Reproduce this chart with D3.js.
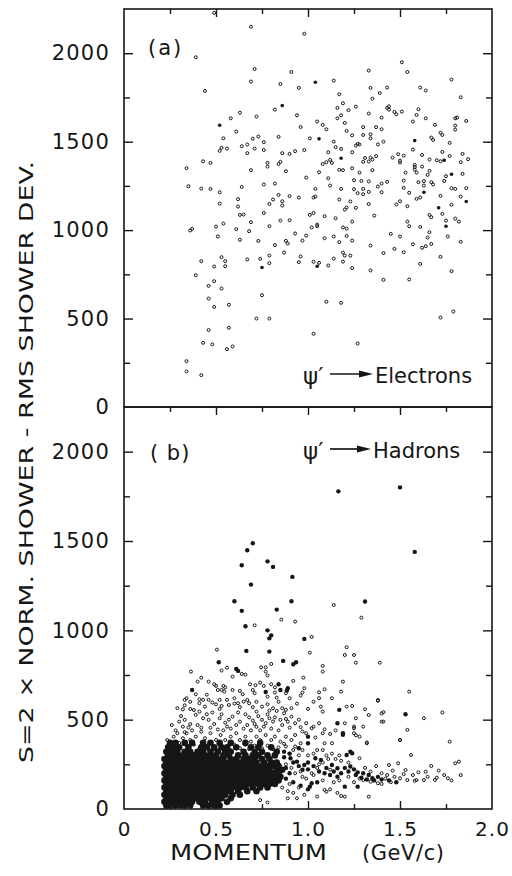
<!DOCTYPE html>
<html><head><meta charset="utf-8">
<script src="https://cdn.jsdelivr.net/npm/d3@7"></script>
<style>body{margin:0;background:#fff}</style>
</head><body>
<svg id="c" width="512" height="876" xmlns="http://www.w3.org/2000/svg"></svg>
<script>
// ---------- axis data ----------
const xTickValues = [0, 0.5, 1.0, 1.5, 2.0];
const xTickLabels = ["0", "0.5", "1.0", "1.5", "2.0"];
const xMajorTicks = [0.5, 1.0, 1.5];
const xMinorTicks = [0.25, 0.75, 1.25, 1.75];
const yTickValues = [0, 500, 1000, 1500, 2000];
const yMajorTicks = [500, 1000, 1500, 2000];
const yMinorTicks = [250, 750, 1250, 1750];
const xTitleWord = "MOMENTUM";
const xTitleUnit = "(GeV/c)";
const yTitle = "S=2 \u00d7 NORM. SHOWER - RMS SHOWER DEV.";

// ---------- panel (a): psi' -> electrons  [momentum GeV/c, S] ----------
const electronsOpen = [
[0.69,2150],[0.98,2110],[0.39,1977],[0.71,1911],[0.91,1894],[0.69,1840],[0.85,1826],[0.95,1804],[0.44,1787],[0.82,1681],
[0.63,1664],[0.94,1649],[0.58,1632],[0.72,1642],[0.96,1583],[0.61,1557],[0.54,1519],[0.70,1517],[0.73,1529],[0.84,1527],
[0.76,1497],[0.64,1474],[0.67,1484],[0.53,1465],[0.56,1461],[0.52,1448],[0.71,1461],[0.76,1453],[0.67,1435],[0.86,1435],
[0.90,1431],[0.93,1446],[0.98,1453],[0.43,1389],[0.47,1380],[0.34,1350],[0.78,1380],[0.78,1359],[0.84,1374],[0.85,1386],
[0.69,1339],[0.88,1333],[0.99,1297],[0.35,1248],[0.42,1235],[0.47,1233],[0.52,1214],[0.64,1244],[0.76,1258],[0.82,1263],
[0.84,1199],[0.81,1173],[0.90,1192],[0.95,1184],[0.86,1163],[0.52,1150],[0.62,1175],[0.62,1133],[0.79,1148],[0.86,1139],
[0.49,2228],
[0.63,1086],[0.65,1088],[0.76,1097],[0.50,1020],[0.54,1037],[0.69,1045],[0.79,1022],[0.85,1054],[0.90,1056],[0.36,998],
[0.37,1007],[0.61,1005],[0.68,994],[0.51,964],[0.63,945],[0.73,939],[0.82,915],[0.88,939],[0.89,924],[0.93,981],
[0.97,941],[0.99,969],[0.87,873],[0.42,824],[0.53,847],[0.55,824],[0.49,794],[0.55,796],[0.67,834],[0.74,838],
[0.79,856],[0.79,813],[0.96,851],[0.95,819],[0.39,745],[0.49,711],[0.46,685],[0.53,670],[0.75,632],[0.46,613],
[0.49,566],[0.57,578],[0.72,500],[0.79,500],[0.46,435],[0.57,448],[0.43,363],[0.48,354],[0.56,327],[0.59,342],
[0.34,259],[0.34,201],[0.42,180],
[1.51,1949],[1.54,1894],[1.33,1902],[1.78,1851],[1.14,1845],[1.34,1804],[1.43,1806],[1.17,1768],[1.39,1775],[1.61,1806],
[1.64,1789],[1.35,1743],[1.83,1751],[1.19,1717],[1.26,1698],[1.16,1691],[1.22,1678],[1.43,1691],[1.44,1700],[1.44,1681],
[1.47,1668],[1.48,1655],[1.51,1670],[1.60,1683],[1.18,1649],[1.16,1632],[1.33,1659],[1.40,1636],[1.59,1651],[1.64,1632],
[1.80,1632],[1.81,1636],[1.86,1617],[1.05,1614],[1.20,1606],[1.08,1595],[1.10,1570],[1.57,1614],[1.69,1595],[1.30,1582],
[1.37,1582],[1.40,1570],[1.80,1591],[1.80,1568],[1.21,1561],[1.72,1551],[1.73,1538],[1.24,1536],[1.30,1538],[1.34,1542],
[1.34,1519],[1.01,1519],[1.14,1500],[1.26,1478],[1.27,1487],[1.28,1484],[1.41,1500],[1.38,1484],[1.67,1523],[1.68,1510],
[1.77,1493],[1.15,1469],[1.18,1459],[1.24,1440],[1.11,1440],[1.49,1429],[1.52,1421],[1.57,1455],[1.62,1425],[1.73,1442],
[1.84,1431],[1.77,1419],[1.31,1408],[1.34,1410],[1.35,1399],[1.37,1418],[1.30,1386],[1.33,1388],[1.46,1410],[1.50,1393],
[1.50,1382],[1.66,1399],[1.70,1395],[1.72,1389],[1.83,1384],[1.87,1401],[1.08,1374],[1.10,1384],[1.12,1397],[1.13,1380],
[1.58,1369],[1.58,1356],[1.62,1359],[1.17,1341],[1.19,1339],[1.24,1350],[1.28,1325],[1.35,1339],[1.53,1325],[1.58,1342],
[1.59,1325],[1.65,1312],[1.66,1335],[1.75,1305],[1.84,1318],[1.06,1327],[1.11,1293],[1.12,1252],[1.25,1282],[1.29,1278],
[1.33,1275],[1.43,1273],[1.40,1263],[1.52,1280],[1.60,1271],[1.63,1277],[1.63,1252],[1.67,1271],[1.68,1258],[1.74,1278],
[1.04,1233],[1.18,1233],[1.25,1231],[1.30,1233],[1.38,1246],[1.52,1239],[1.78,1237],[1.80,1233],[1.86,1237],[1.03,1184],
[1.04,1190],[1.17,1173],[1.27,1209],[1.30,1203],[1.33,1216],[1.40,1214],[1.55,1211],[1.72,1194],[1.83,1190],[1.59,1177],
[1.61,1184],[1.50,1163],[1.23,1162],[1.33,1147],[1.48,1145],[1.54,1135],[1.78,1143],[1.21,1128],[1.26,1126],
[1.03,1097],[1.01,1086],[1.09,1079],[1.15,1067],[1.20,1116],[1.36,1082],[1.24,1048],[1.02,1015],[1.05,1022],[1.05,1031],
[1.19,1015],[1.21,1009],[1.14,964],[1.09,954],[1.17,932],[1.21,967],[1.24,941],[1.34,913],[1.45,979],[1.50,964],
[1.54,1048],[1.55,1022],[1.61,1018],[1.66,1086],[1.67,1073],[1.73,1092],[1.75,1054],[1.80,1065],[1.82,1048],[1.66,988],
[1.65,958],[1.76,964],[1.83,934],[1.67,922],[1.64,909],[1.62,900],[1.57,920],[1.52,875],[1.47,894],[1.41,870],
[1.19,873],[1.20,856],[1.23,856],[1.14,839],[1.03,821],[1.06,815],[1.11,800],[1.19,822],[1.24,785],[1.34,772],
[1.72,849],[1.61,809],[1.78,768],[1.41,719],[1.55,721],[1.10,595],[1.18,589],[1.72,506],[1.79,540],[1.03,414],[1.27,359]
];
const electronsFilled = [
[0.86,1704],[0.52,1593],[1.04,1836],[1.06,1516],[1.58,1506],[1.18,1406],[1.74,1395],[1.78,1316],[1.63,1214],[1.86,1162],
[1.71,1126],[1.75,1022],[0.75,789],[1.05,796]
];

// ---------- panel (b): psi' -> hadrons  [momentum GeV/c, S] ----------
const hadronsOpen = [
[1.14,1142],[1.29,1071],[0.855,1060],[0.93,1049],[0.71,1028],[1.02,963],[0.505,892],[1.01,875],[1.21,905],[1.20,862],
[1.25,862],[1.26,819],[1.39,819],[0.364,769],[0.53,775],[0.56,791],[0.64,756],[0.66,752],[0.59,741],[0.745,793],
[0.77,793],[0.80,812],[0.77,769],[0.78,747],[0.42,735],[0.40,713],[1.08,801],[1.08,769],[0.975,735],[0.92,717],
[1.19,713],[0.46,713],[0.49,698],[0.51,666],[0.50,689],[0.685,698],[0.715,693],[0.74,707],[0.76,689],[0.80,698],
[0.82,681],[0.54,689],[0.55,680],[0.545,657],[0.53,666],[0.59,666],[0.63,661],[0.645,642],[0.70,666],[0.71,648],
[0.78,629],[0.82,652],[0.83,623],[0.88,648],[0.97,652],[0.96,635],[0.98,676],[1.06,653],[1.06,620],[1.09,670],
[1.18,657],[1.55,657],[1.38,610],
[0.34,620],[0.33,611],[0.39,642],[0.41,614],[0.43,611],[0.41,592],[0.44,573],[0.46,611],[0.48,596],[0.50,586],
[0.52,611],[0.53,577],[0.56,611],[0.57,582],[0.60,620],[0.62,592],[0.63,570],[0.65,601],[0.68,592],[0.70,570],
[0.72,545],[0.75,573],[0.78,586],[0.79,551],[0.81,564],[0.83,549],[0.86,564],[0.87,536],[0.88,555],[0.91,564],
[1.07,573],[1.08,545],[1.21,573],[1.24,577],[1.31,558],[1.41,542],[1.63,508],[1.73,540],
[0.29,564],[0.32,558],[0.36,560],[0.30,489],[0.32,461],[0.33,499],[0.35,456],[0.38,554],[0.39,527],[0.41,545],
[0.43,508],[0.46,499],[0.49,476],[0.52,508],[0.55,483],[0.56,461],[0.59,517],[0.63,489],[0.68,513],[0.70,495],
[0.71,476],[0.75,499],[0.76,461],[0.79,508],[0.82,513],[0.85,499],[0.88,504],[0.89,489],[0.91,517],[0.96,458],
[0.97,434],[1.02,452],[1.03,461],[1.09,446],[1.08,424],[1.25,452],[1.26,413],[1.26,508],[1.41,489],[1.54,443],
[1.50,387],[1.32,372],
[0.99,424],[1.09,368],[1.13,368],[1.20,480],[1.25,461],[1.25,424],[1.28,284],[1.44,246],[1.49,256],[1.53,218],
[1.56,302],[1.50,386],[1.67,241],[1.64,209],[1.69,162],[1.74,190],[1.76,172],[1.59,162],[1.63,162],[1.71,215],
[1.80,256],[1.77,377],[1.40,535],[1.40,489],[1.38,606],[1.33,526],[1.30,461],[1.28,405],[1.32,368],[1.33,69],
[1.18,73],[1.20,69],[1.09,107],[1.10,97],[0.94,60],[0.89,60],[0.78,36],[0.74,50],[1.43,190],[1.47,180],
[1.50,172],[1.54,162],[1.58,158],[1.82,265],[1.30,162],[1.34,153],[1.38,144],
[0.235,386],[0.27,405],[0.29,424],[0.32,396],[0.34,424],[0.36,386],[0.39,405],[0.42,433],[0.44,396],[0.47,424],
[0.50,386],[0.525,414],[0.55,386],[0.58,405],[0.61,424],[0.63,386],[0.66,405],[0.69,377],[0.72,405],[0.74,386],
[0.77,414],[0.80,386],[0.82,405],[0.85,377],[0.88,405],[0.91,386],[0.93,414],[0.96,368],
[0.88,350],[0.92,330],[0.95,300],[1.05,330],[1.10,300],[1.15,280],[1.06,250],[1.12,220],[1.18,270],[1.22,260],
[1.40,140],[1.45,150],[0.97,180],[1.02,200],[1.08,160],[0.90,140],[0.95,120],
[0.26,470],[0.28,440],[0.31,520],[0.33,430],[0.36,475],[0.37,440],[0.40,470],[0.42,455],[0.45,530],[0.47,455],
[0.48,540],[0.51,445],[0.53,530],[0.54,440],[0.57,500],[0.58,450],[0.61,470],[0.62,540],[0.65,450],[0.66,530],
[0.67,470],[0.69,440],[0.72,460],[0.73,520],[0.74,440],[0.77,480],[0.78,530],[0.80,450],[0.81,490],[0.84,440],
[0.86,470],[0.90,455],[0.93,480],[0.95,500],[0.99,480],[1.04,400],[1.06,480],[1.12,420],[1.15,440],
[0.25,350],[0.27,330],[0.30,370],[0.35,330],[0.38,360],[0.41,340],[0.46,360],[0.49,335],[0.53,350],[0.57,335],
[0.60,360],[0.63,340],[0.66,360],[0.68,335],[0.71,355],[0.75,340],[0.78,355],[0.81,335],[0.84,345],[0.87,365],
[0.90,310],[0.93,350],[0.97,330],[1.00,300],[1.03,310],[1.08,330],[1.13,310],[1.17,300],
[0.33,580],[0.36,600],[0.45,640],[0.52,560],[0.60,590],[0.67,610],[0.72,600],[0.84,600],[0.90,620],[0.94,590],
[1.00,560],[1.03,600],[1.13,620],
[0.88,250],[0.91,230],[0.93,200],[0.96,210],[0.99,170],[1.03,190],[1.05,230],[1.08,260],[1.11,280],[1.14,150],
[1.17,160],[1.22,180],[1.25,150],[1.28,170],[1.31,230],[1.34,210],[1.37,240],[1.40,200],[1.42,170],[1.46,215],
[1.52,195],[1.57,190],[1.60,205],[1.65,180],[1.70,175],[1.78,160],[1.83,190],[0.86,120],[0.89,100],[0.92,90],
[0.98,80],[1.05,70],[1.12,110],[1.16,90]
];
const hadronsFilled = [
[1.165,1778],[1.50,1800],[1.58,1439],[0.70,1487],[0.67,1448],[0.64,1364],[0.78,1386],[0.81,1355],[0.915,1299],[0.69,1256],
[0.60,1163],[0.91,1163],[0.64,1109],[0.83,1116],[1.31,1161],[0.66,1023],[0.78,1000],[0.79,955],[0.80,972],[0.98,952],
[0.665,885],[0.79,881],[0.515,821],[0.865,829],[0.92,810],[0.935,821],[0.61,784],[0.62,773],[0.37,666],[0.84,698],
[0.85,666],[0.89,676],[0.885,663],[0.77,655],[1.17,555],[1.53,530],[1.16,480],[1.19,415],
[0.87,321],[0.905,284],[1.00,405],[1.00,368],[1.19,424],[1.23,321],[1.24,312],[1.21,302],[1.09,200],[1.12,190],
[1.16,181],[1.13,246],[1.16,228],[1.20,230],[1.23,238],[1.25,222],[1.27,205],[1.30,200],[1.33,190],[1.35,172],
[1.38,180],[1.20,125],[1.27,125],[0.94,265],[0.98,246],[1.00,222],[1.04,284],[1.07,274],[1.02,144],[1.01,125],
[0.88,230],[0.90,200],[0.92,260],[0.95,240],[0.97,220],[1.00,260],[1.03,240],[1.06,210],[1.10,230],[1.14,210],
[1.18,200],[1.22,210],[1.26,190],[1.29,175],[1.32,165],[1.36,160],[1.40,165],[1.44,160],[1.48,150],[0.88,170],
[0.92,150],[0.96,130],[1.00,110],[1.05,150],[0.87,290],[0.90,310],[0.95,340]
];
// densely overlapping region of panel (b): [S, [momenta...]]
const hadronDenseRows = [
[20, [0.23,0.25,0.28,0.31,0.33,0.36,0.43,0.46,0.49,0.52]],
[40, [0.22,0.24,0.27,0.29,0.32,0.35,0.37,0.41,0.44,0.48,0.51,0.56]],
[60, [0.23,0.26,0.28,0.31,0.34,0.36,0.39,0.42,0.45,0.47,0.50,0.53,0.58]],
[80, [0.22,0.25,0.27,0.30,0.33,0.35,0.38,0.41,0.44,0.46,0.49,0.52,0.55,0.59,0.63]],
[100,[0.23,0.25,0.28,0.31,0.33,0.36,0.39,0.42,0.44,0.47,0.50,0.53,0.56,0.58,0.62,0.67,0.72]],
[120,[0.22,0.25,0.28,0.30,0.33,0.36,0.39,0.41,0.44,0.47,0.50,0.52,0.55,0.58,0.61,0.63,0.66,0.70,0.74,0.78]],
[140,[0.23,0.26,0.28,0.31,0.34,0.37,0.39,0.42,0.45,0.48,0.50,0.53,0.56,0.59,0.61,0.64,0.67,0.70,0.73,0.76,0.79,0.82]],
[160,[0.22,0.25,0.27,0.30,0.33,0.36,0.38,0.41,0.44,0.47,0.49,0.52,0.55,0.58,0.60,0.63,0.66,0.69,0.72,0.75,0.78,0.81,0.84]],
[180,[0.23,0.26,0.29,0.31,0.34,0.37,0.40,0.42,0.45,0.48,0.51,0.53,0.56,0.59,0.62,0.64,0.67,0.70,0.73,0.76,0.79,0.82,0.85]],
[200,[0.22,0.25,0.28,0.30,0.33,0.36,0.39,0.41,0.44,0.47,0.50,0.52,0.55,0.58,0.61,0.63,0.66,0.69,0.72,0.75,0.78,0.81,0.84]],
[220,[0.23,0.26,0.28,0.31,0.34,0.37,0.39,0.42,0.45,0.48,0.50,0.53,0.56,0.59,0.61,0.64,0.67,0.70,0.73,0.76,0.79,0.83,0.86]],
[240,[0.22,0.25,0.27,0.30,0.33,0.36,0.38,0.41,0.44,0.47,0.49,0.52,0.55,0.58,0.60,0.63,0.66,0.69,0.72,0.75,0.78,0.81,0.84]],
[260,[0.23,0.26,0.29,0.31,0.34,0.37,0.40,0.42,0.45,0.48,0.51,0.54,0.57,0.60,0.63,0.66,0.69,0.72,0.76,0.80,0.83]],
[280,[0.22,0.25,0.28,0.30,0.33,0.36,0.39,0.42,0.45,0.48,0.51,0.54,0.58,0.61,0.65,0.68,0.71,0.75,0.79]],
[300,[0.24,0.26,0.29,0.32,0.35,0.38,0.41,0.44,0.47,0.50,0.54,0.57,0.62,0.66,0.70,0.73,0.78,0.82]],
[320,[0.23,0.26,0.29,0.33,0.36,0.40,0.43,0.47,0.51,0.55,0.58,0.65,0.71,0.75,0.83]],
[345,[0.24,0.27,0.30,0.35,0.42,0.45,0.49,0.53,0.56,0.61,0.69,0.73,0.80]],
[370,[0.25,0.28,0.33,0.37,0.43,0.47,0.52,0.58,0.66,0.74]]
];

// ---------- drawing ----------
const INK = "#161616";
const FONT = "'DejaVu Sans', 'Liberation Sans', sans-serif";
const svg = d3.select("#c");
svg.append("rect").attr("width", 512).attr("height", 876).attr("fill", "#fff");

const x = d3.scaleLinear().domain([0, 2]).range([124, 492]);
const yA = d3.scaleLinear().domain([0, 2250]).range([407, 9]);
const yB = d3.scaleLinear().domain([0, 2250]).range([809, 407]);

function ticks(axis, tx, ty, vals, len) {
  const g = svg.append("g").attr("transform", `translate(${tx},${ty})`)
    .call(axis.tickValues(vals).tickSize(-len).tickFormat(""));
  g.select(".domain").remove();
  g.selectAll("line").attr("stroke", INK).attr("stroke-width", 1.4);
}
// frames
[yA, yB].forEach(y => {
  svg.append("rect").attr("x", x(0)).attr("y", y(2250))
    .attr("width", x(2) - x(0)).attr("height", y(0) - y(2250))
    .attr("fill", "none").attr("stroke", INK).attr("stroke-width", 1.6);
});
// x ticks: top of (a) down, divider down into (b), bottom of (b) up
[[9, "top"], [407, "top"], [809, "bottom"]].forEach(([ty, side]) => {
  const mk = () => side === "top" ? d3.axisTop(x) : d3.axisBottom(x);
  ticks(mk(), 0, ty, xMajorTicks, 8);
  ticks(mk(), 0, ty, xMinorTicks, 5);
});
// y ticks both panels, both sides, inward
[yA, yB].forEach(y => {
  ticks(d3.axisLeft(y), x(0), 0, yMajorTicks, 9);
  ticks(d3.axisLeft(y), x(0), 0, yMinorTicks, 6);
  ticks(d3.axisRight(y), x(2), 0, yMajorTicks, 9);
  ticks(d3.axisRight(y), x(2), 0, yMinorTicks, 6);
});
// y tick labels
[yA, yB].forEach(y => {
  const g = svg.append("g").attr("transform", `translate(${x(0)},0)`)
    .call(d3.axisLeft(y).tickValues(yTickValues).tickSize(0).tickPadding(14).tickFormat(d3.format("d")));
  g.select(".domain").remove();
  g.selectAll("text").attr("font-family", FONT).attr("font-size", 21)
    .attr("letter-spacing", 1.2).attr("fill", INK);
});
// x tick labels
{
  const g = svg.append("g").attr("transform", `translate(0,809)`)
    .call(d3.axisBottom(x).tickValues(xTickValues).tickSize(0).tickPadding(13)
      .tickFormat((d, i) => xTickLabels[i]));
  g.select(".domain").remove();
  g.selectAll("text").attr("font-family", FONT).attr("font-size", 20)
    .attr("letter-spacing", 1).attr("fill", INK);
}
// axis titles
svg.append("text").attr("x", 170).attr("y", 860).attr("font-family", FONT)
  .attr("font-size", 21).attr("fill", INK)
  .attr("textLength", 157).attr("lengthAdjust", "spacingAndGlyphs").text(xTitleWord);
svg.append("text").attr("x", 362).attr("y", 860).attr("font-family", FONT)
  .attr("font-size", 21).attr("fill", INK)
  .attr("textLength", 82).attr("lengthAdjust", "spacing").text(xTitleUnit);
svg.append("text").attr("transform", "translate(33,462) rotate(-90)")
  .attr("text-anchor", "middle").attr("font-family", FONT).attr("font-size", 20)
  .attr("fill", INK).attr("textLength", 602).attr("lengthAdjust", "spacingAndGlyphs").text(yTitle);

// panel labels / annotations
svg.append("text").attr("x", 148).attr("y", 55).attr("font-family", FONT).attr("font-size", 21)
  .attr("letter-spacing", 2).attr("fill", INK).text("(a)");
svg.append("text").attr("x", 150).attr("y", 460).attr("font-family", FONT).attr("font-size", 21)
  .attr("letter-spacing", 1).attr("fill", INK).text("( b)");
[[383, "Electrons", 375], [458, "Hadrons", 373]].forEach(([by, word, wx]) => {
  svg.append("text").attr("x", 303).attr("y", by + 1).attr("font-family", FONT).attr("font-size", 23)
    .attr("fill", INK).text("\u03c8\u2032");
  const ay = by - 9;
  svg.append("line").attr("x1", 330).attr("x2", wx - 12).attr("y1", ay).attr("y2", ay)
    .attr("stroke", INK).attr("stroke-width", 1.7);
  svg.append("path").attr("d", `M${wx - 2},${ay} L${wx - 16},${ay - 3.5} L${wx - 16},${ay + 3.5} Z`).attr("fill", INK);
  svg.append("text").attr("x", wx).attr("y", by).attr("font-family", FONT).attr("font-size", 21)
    .attr("fill", INK).text(word);
});

// marks
function openPts(data, y) {
  svg.append("g").selectAll("circle").data(data).join("circle")
    .attr("cx", d => x(d[0])).attr("cy", d => y(d[1])).attr("r", 1.5)
    .attr("fill", "none").attr("stroke", INK).attr("stroke-width", 1.0);
}
function filledPts(data, y, r) {
  svg.append("g").selectAll("circle").data(data).join("circle")
    .attr("cx", d => x(d[0])).attr("cy", d => y(d[1])).attr("r", r).attr("fill", INK);
}
openPts(electronsOpen, yA);
filledPts(electronsFilled, yA, 1.8);
const dense = hadronDenseRows.flatMap(([s, ms]) => ms.map(m => [m, s]));
filledPts(dense, yB, 3.3);
openPts(hadronsOpen, yB);
filledPts(hadronsFilled, yB, 2.2);
</script>
</body></html>
